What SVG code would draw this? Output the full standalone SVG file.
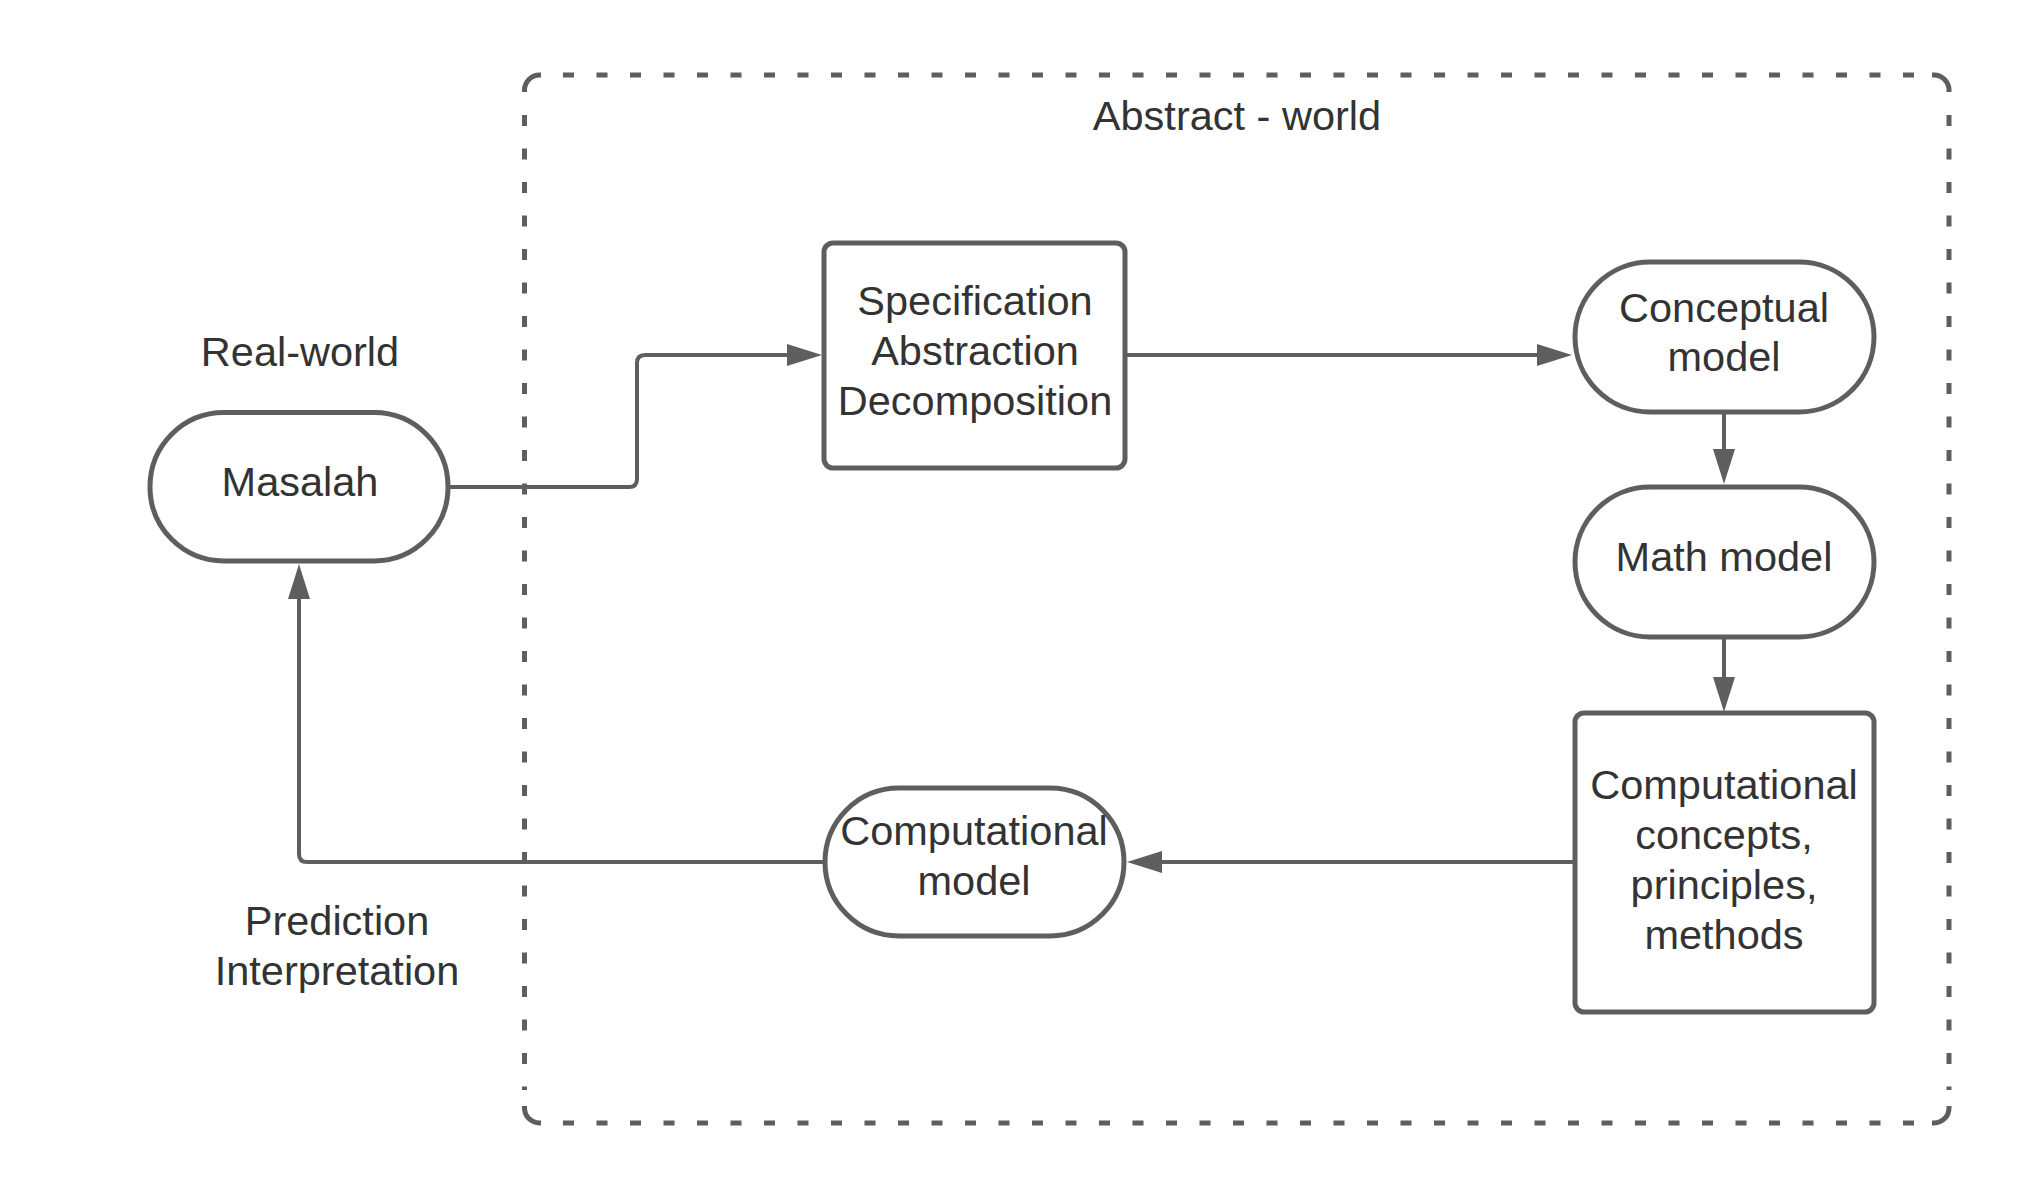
<svg xmlns="http://www.w3.org/2000/svg" width="2025" height="1200" viewBox="0 0 2025 1200">
<style>
.node{fill:#ffffff;stroke:#5e5e5e;stroke-width:5}
.t{font-family:"Liberation Sans",Arial,sans-serif;font-size:41.5px;fill:#333333;text-anchor:middle}
.con{fill:none;stroke:#5e5e5e;stroke-width:4}
.frame{fill:none;stroke:#5e5e5e;stroke-width:5}
.dash{stroke-dasharray:11 22.5}
</style>
<defs>
<marker id="ah" markerUnits="userSpaceOnUse" markerWidth="35" markerHeight="22" refX="0" refY="11" orient="auto" viewBox="0 0 35 22">
<path d="M0,0 L35,11 L0,22 z" fill="#5e5e5e"/>
</marker>
</defs>
<rect width="2025" height="1200" fill="#ffffff"/>
<g id="abstract-world">
<path class="frame" d="M524.5,92 V90 A15,15 0 0 1 539.5,75 H541"/>
<path class="frame" d="M1932,75 H1934 A15,15 0 0 1 1949,90 V92"/>
<path class="frame" d="M1949,1106 V1108 A15,15 0 0 1 1934,1123 H1932"/>
<path class="frame" d="M541,1123 H539.5 A15,15 0 0 1 524.5,1108 V1106"/>
<line class="frame dash" x1="563" y1="75" x2="1925" y2="75"/>
<line class="frame dash" x1="563" y1="1123" x2="1925" y2="1123"/>
<line class="frame dash" x1="524.5" y1="115" x2="524.5" y2="1090"/>
<line class="frame dash" x1="1949" y1="115" x2="1949" y2="1090"/>
<text class="t" x="1237" y="130">Abstract - world</text>
</g>
<g id="connectors">
<path class="con" d="M448,487 H629 Q637,487 637,479 V363 Q637,355 645,355 H787" marker-end="url(#ah)"/>
<path class="con" d="M1125,355 H1537" marker-end="url(#ah)"/>
<path class="con" d="M1724,412 V449" marker-end="url(#ah)"/>
<path class="con" d="M1724,637 V677" marker-end="url(#ah)"/>
<path class="con" d="M1574,862 H1162" marker-end="url(#ah)"/>
<path class="con" d="M826,862 H307 Q299,862 299,854 V599" marker-end="url(#ah)"/>
</g>
<g id="real-world-label">
<text class="t" x="300" y="366">Real-world</text>
</g>
<g id="masalah">
<rect class="node" x="150" y="412.5" width="298" height="148.5" rx="74" ry="74"/>
<text class="t" x="300" y="496">Masalah</text>
</g>
<g id="specification">
<rect class="node" x="824" y="243" width="301" height="225" rx="9" ry="9"/>
<text class="t" x="975" y="315">Specification</text>
<text class="t" x="975" y="365">Abstraction</text>
<text class="t" x="975" y="415">Decomposition</text>
</g>
<g id="conceptual-model">
<rect class="node" x="1575" y="262" width="299" height="150" rx="75" ry="75"/>
<text class="t" x="1724" y="322">Conceptual</text>
<text class="t" x="1724" y="371">model</text>
</g>
<g id="math-model">
<rect class="node" x="1575" y="487" width="299" height="150" rx="75" ry="75"/>
<text class="t" x="1724" y="571">Math model</text>
</g>
<g id="computational-concepts">
<rect class="node" x="1575" y="713" width="299" height="299" rx="9" ry="9"/>
<text class="t" x="1724" y="799">Computational</text>
<text class="t" x="1724" y="849">concepts,</text>
<text class="t" x="1724" y="899">principles,</text>
<text class="t" x="1724" y="949">methods</text>
</g>
<g id="computational-model">
<rect class="node" x="825" y="788" width="299" height="148" rx="74" ry="74"/>
<text class="t" x="974" y="845">Computational</text>
<text class="t" x="974" y="895">model</text>
</g>
<g id="prediction-label">
<text class="t" x="337" y="935">Prediction</text>
<text class="t" x="337" y="985">Interpretation</text>
</g>
</svg>
